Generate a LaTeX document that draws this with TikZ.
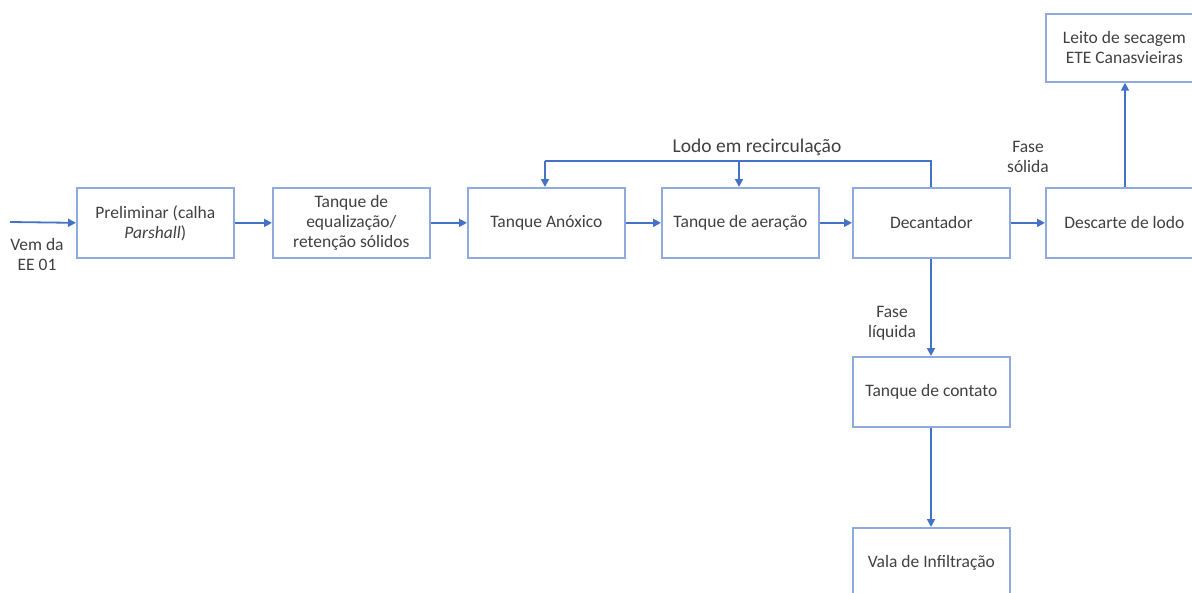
\documentclass[tikz,border=0pt]{standalone}
\usepackage{fontspec}
\setmainfont{Carlito}
\usetikzlibrary{arrows.meta}
\definecolor{boxc}{RGB}{143,170,220}
\definecolor{arrc}{RGB}{68,114,196}
\definecolor{txt}{RGB}{64,64,64}
\begin{document}
\begin{tikzpicture}[x=1pt,y=-1pt,
  proc/.style={draw=boxc,line width=1.7pt,minimum width=157pt,minimum height=70pt,
    inner sep=0pt,align=center,text=txt,font=\fontsize{17.5}{20}\selectfont,anchor=north west},
  flow/.style={draw=arrc,line width=1.8pt,-{Triangle[length=8pt,width=8pt]}},
  lbl/.style={text=txt,font=\fontsize{17.5}{20}\selectfont,align=center,inner sep=0pt}]
\useasboundingbox (0,0) rectangle (1192,592);
\begin{scope}
\clip (0,0) rectangle (1192,592);
\node[proc] (pre) at (76,187) {Preliminar (calha\\\textit{Parshall})};
\node[proc] (equ) at (272,187) {Tanque de\\equalização/\\retenção sólidos};
\node[proc] (ano) at (467,187) {Tanque Anóxico};
\node[proc] (aer) at (661,187) {Tanque de aeração};
\node[proc] (dec) at (852,187) {Decantador};
\node[proc] (des) at (1045,187) {Descarte de lodo};
\node[proc,minimum height=68pt] (lei) at (1045,13) {Leito de secagem\\ETE Canasvieiras};
\node[proc] (con) at (852,356) {Tanque de contato};
\node[proc] (val) at (852,527) {Vala de Infiltração};
\end{scope}
\coordinate (in) at (10,222);
\coordinate (r1) at (931,161);
\coordinate (r2) at (545,161);
\coordinate (r3) at (739,161);
\coordinate (up) at (1125,187);
\draw[flow] (in) -- (pre.west);
\draw[flow] (pre) -- (equ);
\draw[flow] (equ) -- (ano);
\draw[flow] (ano) -- (aer);
\draw[flow] (aer) -- (dec);
\draw[flow] (dec) -- (des.west);
\draw[flow] (up) -- (up |- lei.south);
\draw[flow] (dec.south -| r1) -- (con.north -| r1);
\draw[flow] (con.south -| r1) -- (val.north -| r1);
\draw[draw=arrc,line width=1.8pt] (dec.north -| r1) -- (r1) -- (r2);
\draw[flow] (r2) -- (ano.north -| r2);
\draw[flow] (r3) -- (aer.north -| r3);
\node[lbl] (vem) at (37,254) {Vem da\\EE 01};
\node[lbl,font=\fontsize{19.5}{20}\selectfont] (lodo) at (757,147) {Lodo em recirculação};
\node[lbl] (fs) at (1028,157) {Fase\\sólida};
\node[lbl] (fl) at (892,323) {Fase\\líquida};
\end{tikzpicture}
\end{document}
